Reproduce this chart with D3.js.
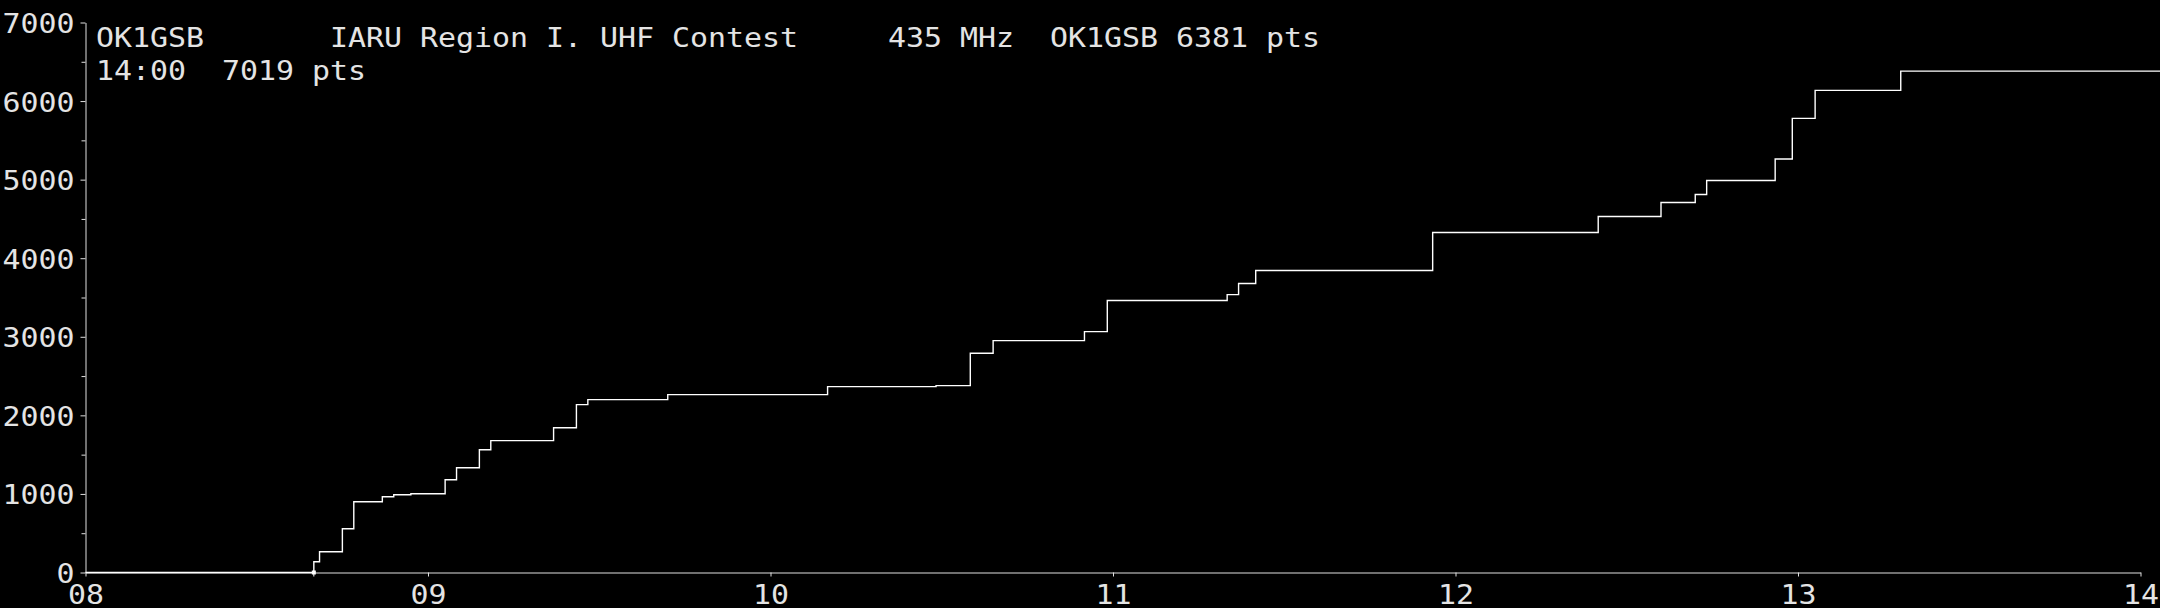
<!DOCTYPE html>
<html lang="en">
<head>
    <meta charset="UTF-8">
    <title>OK1GSB score</title>
    <script src="https://d3js.org/d3.v7.min.js"></script>
    <style>
        html, body { margin: 0; padding: 0; background: #000; overflow: hidden; }
        text { font-family: "DejaVu Sans Mono", monospace; font-size: 26px; fill: #e4e4e4; white-space: pre; }
    </style>
</head>
<body>
    <svg width="2160" height="608"></svg>
    <script>
        // Score progress (time of QSO, running total)
        const times = ["08:00", "08:40", "08:41", "08:45", "08:47", "08:52", "08:54", "08:57",
            "09:03", "09:05", "09:09", "09:11", "09:22", "09:26", "09:28", "09:42",
            "10:10", "10:29", "10:35", "10:39", "10:55", "10:59",
            "11:20", "11:22", "11:25", "11:56",
            "12:25", "12:36", "12:42", "12:44", "12:56", "12:59",
            "13:03", "13:18", "14:04"];
        const scores = [0, 136, 264, 557, 900, 964, 990, 1002,
            1181, 1334, 1563, 1678, 1843, 2136, 2200, 2264,
            2366, 2378, 2790, 2951, 3066, 3461,
            3537, 3678, 3843, 4327,
            4531, 4710, 4811, 4990, 5263, 5780,
            6136, 6381, 6381];
        const hourTicks = ["08:00", "09:00", "10:00", "11:00", "12:00", "13:00", "14:00"];
        const scoreTicks = [0, 1000, 2000, 3000, 4000, 5000, 6000, 7000];
        const minorTicks = [500, 1500, 2500, 3500, 4500, 5500, 6500];
        const startTime = "08:40";
        const headerLines = [
            "OK1GSB       IARU Region I. UHF Contest     435 MHz  OK1GSB 6381 pts",
            "14:00  7019 pts"
        ];

        const charW = 18;
        const parse = d3.timeParse("%H:%M");
        const svg = d3.select("svg");

        const x = d3.scaleTime()
            .domain([parse("08:00"), parse("14:00")])
            .range([85.5, 2140.5]);
        const y = d3.scaleLinear()
            .domain([0, 7000])
            .range([572.5, 22.5]);

        // minor ticks on the score axis
        svg.append("g")
            .attr("transform", "translate(85.5,0)")
            .call(d3.axisLeft(y).tickValues(minorTicks).tickSize(4).tickFormat(""))
            .call(g => g.select(".domain").remove())
            .selectAll("line").attr("stroke", "#e0e0e0");

        // score axis
        const yAxis = svg.append("g")
            .attr("transform", "translate(85.5,0)")
            .call(d3.axisLeft(y).tickValues(scoreTicks).tickSize(5).tickSizeOuter(0)
                .tickPadding(6).tickFormat(d3.format("d")));
        yAxis.select(".domain").attr("stroke", "#e0e0e0");
        yAxis.selectAll("line").attr("stroke", "#e0e0e0");
        yAxis.selectAll("text")
            .attr("dy", null)
            .attr("y", 10)
            .attr("textLength", d => String(d).length * charW)
            .attr("lengthAdjust", "spacingAndGlyphs")
            .style("font-family", "DejaVu Sans Mono")
            .style("font-size", "26px")
            .attr("fill", "#e4e4e4");

        // time axis
        const xAxis = svg.append("g")
            .attr("transform", "translate(0,572.5)")
            .call(d3.axisBottom(x).tickValues(hourTicks.map(parse)).tickSize(4).tickSizeOuter(0)
                .tickFormat(d3.timeFormat("%H")));
        xAxis.select(".domain").attr("stroke", "#e0e0e0");
        xAxis.selectAll("line").attr("stroke", "#e0e0e0");
        xAxis.selectAll("text")
            .attr("dy", null)
            .attr("y", 31)
            .attr("textLength", 2 * charW)
            .attr("lengthAdjust", "spacingAndGlyphs")
            .style("font-family", "DejaVu Sans Mono")
            .style("font-size", "26px")
            .attr("fill", "#e4e4e4");

        // contest start marker
        svg.append("rect")
            .attr("x", x(parse(startTime)) - 2)
            .attr("y", y(0) - 2)
            .attr("width", 4)
            .attr("height", 4)
            .attr("fill", "#fff");
        svg.append("line")
            .attr("x1", x(parse(startTime))).attr("x2", x(parse(startTime)))
            .attr("y1", y(0)).attr("y2", y(0) + 4)
            .attr("stroke", "#fff");

        // running score
        const pts = times.map((t, i) => [parse(t), scores[i]]);
        const line = d3.line()
            .x(d => x(d[0]))
            .y(d => y(d[1]))
            .curve(d3.curveStepAfter);
        svg.append("path")
            .datum(pts)
            .attr("d", line)
            .attr("fill", "none")
            .attr("stroke", "#fff")
            .attr("stroke-width", 1.4);

        // header
        svg.selectAll(".hdr")
            .data(headerLines)
            .join("text")
            .attr("class", "hdr")
            .attr("x", 96)
            .attr("y", (d, i) => 47 + i * 33)
            .attr("textLength", d => d.length * charW)
            .attr("lengthAdjust", "spacingAndGlyphs")
            .text(d => d);
    </script>
</body>
</html>
